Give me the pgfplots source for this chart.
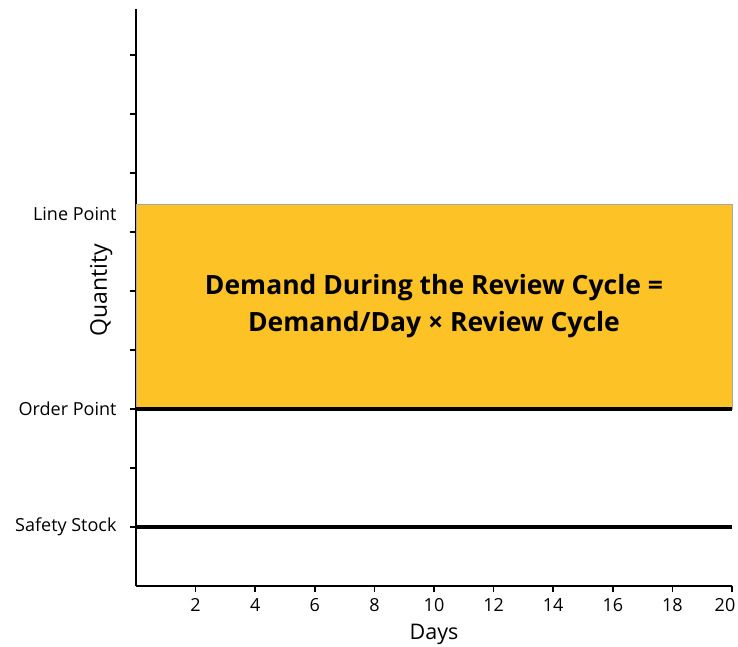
\documentclass[border=0pt]{standalone}
\usepackage{fontspec}
\setmainfont{Open Sans}
\usepackage{pgfplots}
\pgfplotsset{compat=1.18}
\definecolor{gold}{RGB}{253,194,38}
\begin{document}
\begin{tikzpicture}
\useasboundingbox (-136bp,-61bp) rectangle (602bp,586bp);
\begin{axis}[
  at={(0,0)}, anchor=origin,
  scale only axis, width=596bp, height=577bp,
  xmin=0, xmax=20, ymin=0, ymax=9.78,
  axis x line=bottom, axis y line=left,
  axis line style={line width=1.8bp, -},
  xtick={2,4,...,18}, ytick={1,2,...,9},
  extra x ticks={20},
  extra x tick style={xticklabel style={xshift=-7bp}},
  yticklabels={Safety Stock,,Order Point,,,,,,},
  extra y ticks={6.3}, extra y tick labels={Line Point},
  extra y tick style={major tick style={draw=none}},
  tick style={line width=1.5bp, black},
  tick align=outside, major tick length=6bp,
  /pgf/number format/assume math mode=true,
  ticklabel style={font=\fontsize{18bp}{21bp}\selectfont},
  yticklabel style={xshift=-10bp},
  xticklabel style={yshift=-3bp},
  xlabel={Days}, ylabel={Quantity},
  xlabel style={font=\fontsize{21.5bp}{25bp}\selectfont, at={(axis cs:10,-0.82)}, anchor=center},
  ylabel style={font=\fontsize{23bp}{27bp}\selectfont, at={(axis cs:-1.17,5.02)}, anchor=center},
  clip=false,
]
\addplot[fill=gold, draw=gray!70, line width=0.8bp] coordinates {(0,3) (0,6.47) (20,6.47) (20,3)} -- cycle;
\addplot[black, line width=4bp] coordinates {(0,3) (20,3)};
\addplot[black, line width=4bp] coordinates {(0,1) (20,1)};
\node[align=center, font=\fontsize{26.5bp}{37bp}\selectfont\bfseries] at (axis cs:10,4.75)
  {Demand During the Review Cycle =\\Demand/Day × Review Cycle};
\end{axis}
\end{tikzpicture}
\end{document}
